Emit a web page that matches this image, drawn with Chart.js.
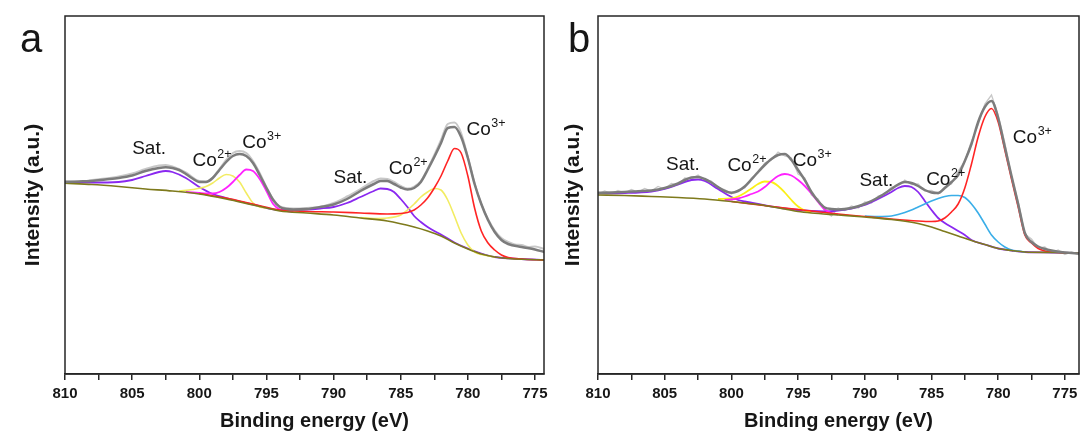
<!DOCTYPE html>
<html>
<head>
<meta charset="utf-8">
<script src="https://cdn.jsdelivr.net/npm/chart.js@4.4.1/dist/chart.umd.min.js"></script>
<style>
  html, body { margin: 0; padding: 0; background: #fff; }
  #wrap { position: relative; width: 1085px; height: 444px; }
  #cA { position: absolute; left: 0; top: 0; }
  #cB { position: absolute; left: 550px; top: 0; }
</style>
</head>
<body>
<div id="wrap">
  <canvas id="cA" width="550" height="444"></canvas>
  <canvas id="cB" width="535" height="444"></canvas>
</div>
<script>
// [binding energy (eV), intensity (a.u.)]

// ---- panel a ----
const aRaw = [[810,193],[809,192],[808,194],[807,195.5],[806,197.5],[805,200.5],[804,205],[803,208.5],[802.5,209],[802,207.5],[801,201.5],[800,193],[799.5,192.5],[799,196.5],[798.5,205],[798,214],[797.5,221],[797,223],[796.5,221],[796,213],[795.5,201],[795,187],[794.5,175],[794,167.5],[793,165.5],[792,166],[791,167],[790,171],[789,177.5],[788,185],[787,193],[786.5,195.5],[786,195],[785.5,192],[785,188],[784.5,185.5],[784,187.5],[783.5,193],[783,205],[782.5,219],[782,234],[781.5,250],[781,251.5],[780.5,241],[780,217],[779.5,191],[779,170],[778.5,155],[778,143.5],[777.5,136],[777,132],[776.5,129.5],[776,129],[775.5,127],[775,127.5],[774.3,125]];
const aEnvelope = [[810,192],[809,192.5],[808,193],[807,194.5],[806,196],[805,198.5],[804,203],[803,206],[802.5,206.7],[802,206],[801.5,204],[801,200],[800.5,195.5],[800,192],[799.5,192],[799,196],[798.5,204],[798,212],[797.5,218],[797,220],[796.5,218],[796,211],[795.5,199],[795,186],[794.5,174],[794,167],[793.5,165],[793,164.5],[792,165],[791,167],[790,169.5],[789,175],[788,183],[787,190],[786.5,193],[786,193],[785.5,190],[785,186.5],[784.5,184.5],[784,186],[783.5,192],[783,204],[782.5,217],[782,231],[781.5,246],[781,247],[780.5,237],[780,216],[779.5,190],[779,170],[778.5,154],[778,142],[777.5,134],[777,130],[776,127],[775,124.5],[774.3,122]];
const aBackground = [[810,190.7],[808,189.5],[806,187.5],[804,185],[802,183],[800,180],[798,175],[796,169],[795,166],[794,163],[792,161],[790,159],[788,156],[786,153],[784,147],[783,143],[782,138],[781,131],[780,125],[779,120],[778,117],[777,115.5],[776,114.7],[774.3,114]];
const aSat = [[810,191.7],[808,191.5],[806,192],[805,194],[804,198],[803,202],[802.5,203],[802,202],[801,196],[800,187],[799,180],[798,176],[796,169.5],[794,164],[792,164.5],[791,165.5],[790,167],[789,171],[788,177],[787,183],[786.5,185.5],[786,185],[785.5,182],[785,175],[784.5,167],[784,158],[783.5,152],[783,147],[782.5,143],[782,139.5],[781,131.5],[780,125.5],[779,120.5],[778,117],[776,115],[774.3,114]];
const aCo2 = [[801.5,183],[800.5,184.5],[799.5,187.5],[799,191],[798.5,196],[798,199.5],[797.5,198],[797,192],[796.5,181],[796,171],[795.5,167],[795,166],[791,null],[788,156.5],[787,155.5],[786,156],[785,159],[784.5,164],[784,170],[783.5,177],[783,182],[782.5,185.5],[782,184],[781.5,174],[781,158],[780.5,141],[780,129],[779.5,122],[779,119.5],[778,117]];
const aCo3half = [[801,182],[800.5,181.5],[800,181],[799.5,180.5],[799,180.5],[798.5,182],[798,186],[797.5,192],[797,199],[796.5,204.5],[796,203],[795.5,195],[795,183],[794.5,170],[794,164.5],[793.5,163],[793,162]];
const aCo3main = [[800,180.5],[798,176],[796,170],[794,164],[792,162.5],[790,162],[788,161],[786,160],[785,160.5],[784.5,161.5],[784,164],[783.5,169],[783,176],[782.5,186],[782,198],[781.5,213],[781,225.5],[780.5,221],[780,198],[779.5,166],[779,143],[778.5,131],[778,124],[777.5,119],[777,116.5],[776,115],[774.3,114]];
const aLabels = [['Sat.','',805.0,220],['Co','2+',800.5,208],['Co','3+',796.8,226],['Sat.','',790.0,191],['Co','2+',785.9,200],['Co','3+',780.1,239]];

// ---- panel b ----
const bRaw = [[810,180],[809.5,183],[809,180.5],[808.5,183.5],[808,181],[807.5,184.5],[807,182],[806.5,185.5],[806,183],[805.5,187.5],[805,185],[804.5,190.5],[804,189],[803.5,196],[803,195],[802.5,199],[802,194],[801.5,193],[801,186],[800.5,184.5],[800,180],[799.5,184],[799,186],[798.5,196],[798,201],[797.5,211],[797,214],[796.5,222],[796,218],[795.5,216],[795,200],[794.5,196],[794,179],[793.5,175],[793,163],[792.5,158],[792,166],[791.5,163.5],[791,168],[790.5,166],[790,172],[789.5,171],[789,178],[788.5,180],[788,187],[787.5,188],[787,194],[786.5,189.5],[786,190],[785.5,183],[785,183.5],[784.5,180],[784,187],[783.5,190],[783,203],[782.5,213],[782,233],[781.5,249],[781,270],[780.5,279],[780,259],[779.5,231],[779,198],[778.5,172],[778,140],[777.5,135],[777,126],[776.5,127],[776,121.5],[775.5,124],[775,119.5],[774.5,122],[773.9,119]];
const bEnvelope = [[810,181.3],[809,181.5],[808,182],[807,182.8],[806,183.5],[805,186],[804,190.5],[803.5,194],[803,196.5],[802.5,197],[802,195],[801.5,191.5],[801,187],[800.5,183],[800,181.3],[799.5,183],[799,187.5],[798.5,194.5],[798,202],[797.5,209],[797,215],[796.5,219],[796,220],[795.5,214],[795,204],[794.5,194],[794,182],[793.5,173],[793,166.5],[792.5,165],[792,164.5],[791,166],[790,170],[789,176.5],[788,185],[787.5,189.5],[787,192],[786.5,191],[786,188],[785.5,184],[785,181.5],[784.5,181],[784,186],[783.5,192],[783,199],[782.5,213],[782,230],[781.5,252],[781,267],[780.5,273],[780,256],[779.5,227],[779,198],[778.5,170],[778,141],[777.5,132],[777,127.5],[776.5,125],[776,123.5],[775,121.5],[773.9,120.5]];
const bBackground = [[810,179],[808,178.5],[806,177.5],[804,176.5],[802,175],[800,172.5],[798,169.5],[796,165],[795,162.5],[794,161],[792,159],[790,157],[788,154.5],[786,150.5],[785,147],[784,142.5],[783,138],[782,133.5],[781,129.5],[780,125.5],[779,123.5],[778,122],[776,121.5],[773.9,121]];
const bSat = [[810,180.7],[808,181],[806,182.5],[805,185],[804,189.5],[803,194],[802.5,194.5],[802,193],[801,185],[800,177],[799.5,174],[799,172.5],[798,170],[796,165.5],[794,163],[793,162.5],[792,163.5],[791,165.5],[790,169],[789,175],[788,182],[787.5,186],[787,188],[786.5,187],[786,182],[785.5,173],[785,164],[784.5,156],[784,151],[783.5,147],[783,143],[782.5,139],[782,134],[781,129.5],[780,125.5],[779,123.5],[778,122],[776,121.5],[773.9,121]];
const bCo2half = [[801,175],[800,175.5],[799.5,177.5],[799,181],[798.5,185.5],[798,190],[797.5,192.5],[797,192],[796.5,188],[796,181.5],[795.5,174],[795,167.5],[794.5,163.5],[794,161.5]];
const bCo2main = [[790,158],[789,157.5],[788,158],[787.5,159.5],[787,161.5],[786.5,164],[786,167],[785.5,170],[785,173],[784.5,175.5],[784,177.5],[783.5,178.5],[783,178.5],[782.5,176.5],[782,170],[781.5,161],[781,150],[780.5,139],[780,132],[779.5,127],[779,124],[778.5,123],[778,122]];
const bCo3half = [[800.5,174],[800,174.5],[799.5,175.5],[799,177.5],[798.5,180],[798,182.5],[797.5,187],[797,193],[796.5,198],[796,200],[795.5,198.5],[795,194],[794.5,188],[794,180.5],[793.5,172],[793,164.5],[792.5,161],[792,159.5]];
const bCo3main = [[800,172.5],[796,166],[792,160],[790,157.5],[788,155],[786,153],[785,152.5],[784.5,153],[784,156],[783.5,162],[783,170],[782.5,186],[782,210],[781.5,237],[781,257],[780.5,265.5],[780,252],[779.5,224],[779,195],[778.5,167],[778,139],[777.5,131],[777,125.5],[776.5,123],[776,122],[773.9,121]];
const bLabels = [['Sat.','',804.9,204],['Co','2+',800.3,203],['Co','3+',795.4,208],['Sat.','',790.4,188],['Co','2+',785.4,189],['Co','3+',778.9,231]];

const FONT = '"Liberation Sans", Arial, Helvetica, sans-serif';
const INK = '#161616';

function pts(arr) { return arr.map(p => ({ x: p[0], y: p[1] })); }

function curve(arr, color, width, order) {
  return { data: pts(arr), borderColor: color, borderWidth: width, pointRadius: 0, fill: false,
           cubicInterpolationMode: 'monotone', spanGaps: false, order: order };
}
function noisy(arr, color, width, order) {
  return { data: pts(arr), borderColor: color, borderWidth: width, pointRadius: 0, fill: false,
           tension: 0, spanGaps: false, order: order };
}

const decor = {
  id: 'decor',
  afterDraw(chart, args, o) {
    const { ctx, chartArea: a, scales: { x, y } } = chart;
    ctx.save();
    ctx.strokeStyle = '#262626';
    ctx.lineWidth = 1.5;
    ctx.strokeRect(a.left, a.top, a.right - a.left, a.bottom - a.top);

    ctx.fillStyle = INK;
    ctx.textAlign = 'left';
    ctx.textBaseline = 'alphabetic';
    ctx.font = '40px ' + FONT;
    ctx.fillText(o.letter, a.left - o.letterDx, 52);

    ctx.font = 'bold 20px ' + FONT;
    ctx.textAlign = 'center';
    ctx.fillText('Binding energy (eV)', (a.left + a.right) / 2 + o.xTitleDx, 427);

    // peak labels
    o.labels.forEach(l => {
      const px = x.getPixelForValue(l[2]);
      const py = y.getPixelForValue(l[3]);
      ctx.textAlign = 'left';
      ctx.font = '19px ' + FONT;
      ctx.fillText(l[0], px, py);
      if (l[1]) {
        const w = ctx.measureText(l[0]).width;
        ctx.font = '12.5px ' + FONT;
        ctx.fillText(l[1], px + w + 0.5, py - 8.5);
      }
    });

    ctx.translate(a.left - o.yTitleDx, (a.top + a.bottom) / 2);
    ctx.rotate(-Math.PI / 2);
    ctx.font = 'bold 21px ' + FONT;
    ctx.textAlign = 'center';
    ctx.textBaseline = 'middle';
    ctx.fillText('Intensity (a.u.)', 0, 0);
    ctx.restore();
  }
};

function panel(id, sets, xMin, padLeft, deco) {
  new Chart(document.getElementById(id), {
    type: 'line',
    data: { datasets: sets },
    options: {
      responsive: false,
      animation: false,
      layout: { padding: { left: padLeft, top: 16, right: 6, bottom: 0 } },
      plugins: { legend: { display: false }, tooltip: { enabled: false }, decor: deco },
      scales: {
        x: {
          type: 'linear', reverse: true, min: xMin, max: 810,
          afterFit: s => { s.height = 70; s.paddingLeft = 0; s.paddingRight = 0; },
          grid: { display: true, drawOnChartArea: false, drawTicks: true, tickLength: 6, color: '#262626', lineWidth: 1.5 },
          border: { display: true, color: '#262626', width: 1.5 },
          ticks: {
            stepSize: 2.5, includeBounds: false, autoSkip: false, maxRotation: 0, minRotation: 0,
            padding: 5, color: INK, font: { family: FONT, size: 15, weight: 'bold' },
            callback: v => (Math.abs(v % 5) < 0.01 ? String(Math.round(v)) : '')
          }
        },
        y: { display: false, min: 0, max: 358 }
      }
    },
    plugins: [decor]
  });
}

panel('cA', [
  curve(aEnvelope, '#7c7c7c', 2.5, 1),
  curve(aBackground, '#7e7a1c', 1.6, 2),
  curve(aCo3main, '#ff2424', 1.6, 3),
  curve(aCo3half, '#ff22ff', 1.8, 4),
  curve(aCo2, '#f2ec62', 1.6, 5),
  curve(aSat, '#8a28f0', 1.8, 6),
  curve(aRaw, '#c8c8c8', 2, 9)
], 774.33, 65, { letter: 'a', letterDx: 45, yTitleDx: 32, xTitleDx: 10, labels: aLabels });

panel('cB', [
  curve(bEnvelope, '#7c7c7c', 2.5, 1),
  curve(bBackground, '#7e7a1c', 1.6, 2),
  curve(bCo3main, '#ff2424', 1.6, 3),
  curve(bCo2main, '#3aaee8', 1.6, 4),
  curve(bCo3half, '#ff22ff', 1.8, 5),
  curve(bCo2half, '#fbef16', 1.8, 6),
  curve(bSat, '#8a28f0', 1.8, 7),
  noisy(bRaw, '#c8c8c8', 1.3, 9)
], 773.94, 48, { letter: 'b', letterDx: 30, yTitleDx: 25, xTitleDx: 0, labels: bLabels });
</script>
</body>
</html>
